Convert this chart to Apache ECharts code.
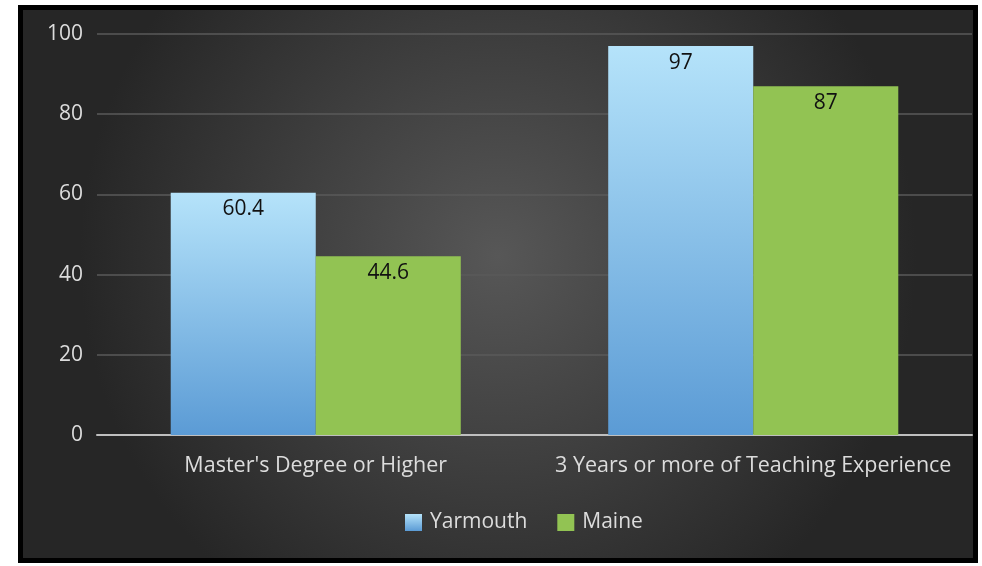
<!DOCTYPE html>
<html>
<head>
<meta charset="utf-8">
<script src="https://cdn.jsdelivr.net/npm/echarts@6/dist/echarts.min.js"></script>
<style>
  html, body { margin: 0; padding: 0; background: #fff; }
  #main { width: 982px; height: 566px; }
</style>
</head>
<body>
<div id="main"></div>
<script>
const categories = ["Master's Degree or Higher", '3 Years or more of Teaching Experience']
const yarmouth = [60.4, 97]
const maine = [44.6, 87]
const yTicks = [0, 20, 40, 60, 80, 100]

const chart = echarts.init(document.getElementById('main'))
const font = '"Open Sans", "Noto Sans", sans-serif'

const option = {
  backgroundColor: '#fff',
  animation: false,
  graphic: [
    {
      type: 'rect',
      z: -10,
      shape: { x: 20.5, y: 7.5, width: 955, height: 553 },
      style: {
        fill: new echarts.graphic.RadialGradient(0.5, 0.45, 0.75, [
          { offset: 0, color: '#575757' },
          { offset: 1, color: '#262626' }
        ]),
        stroke: '#000',
        lineWidth: 5
      }
    }
  ],
  grid: { left: 97, right: 10, top: 34, bottom: 131 },
  legend: {
    bottom: 28,
    left: 400,
    itemWidth: 17,
    itemHeight: 17,
    itemGap: 30,
    icon: 'rect',
    textStyle: { color: '#dcdcdc', fontSize: 21, fontFamily: font, padding: [0, 0, 0, 3] },
    data: ['Yarmouth', 'Maine']
  },
  xAxis: {
    type: 'category',
    data: categories,
    axisLine: { lineStyle: { color: '#bfbfbf', width: 2 } },
    axisTick: { show: false },
    axisLabel: { color: '#dcdcdc', fontSize: 21.5, fontFamily: font, margin: 20, interval: 0, hideOverlap: false }
  },
  yAxis: {
    type: 'value',
    min: yTicks[0],
    max: yTicks[yTicks.length - 1],
    interval: 20,
    axisLine: { show: false },
    axisTick: { show: false },
    splitLine: { lineStyle: { color: '#5a5a5a', width: 1.5 } },
    axisLabel: { color: '#dcdcdc', fontSize: 21, fontFamily: font, margin: 14, align: 'right' }
  },
  series: [
    {
      name: 'Yarmouth',
      type: 'bar',
      data: yarmouth,
      barGap: '0%',
      barCategoryGap: '33.7%',
      itemStyle: {
        color: new echarts.graphic.LinearGradient(0, 0, 0, 1, [
          { offset: 0, color: '#b5e3fa' },
          { offset: 1, color: '#5b9bd5' }
        ])
      },
      label: {
        show: true,
        position: 'insideTop',
        distance: 6,
        color: '#111',
        fontSize: 21,
        fontFamily: font
      }
    },
    {
      name: 'Maine',
      type: 'bar',
      data: maine,
      itemStyle: { color: '#92c353' },
      label: {
        show: true,
        position: 'insideTop',
        distance: 6,
        color: '#111',
        fontSize: 21,
        fontFamily: font
      }
    }
  ]
}

option && chart.setOption(option)
</script>
</body>
</html>
